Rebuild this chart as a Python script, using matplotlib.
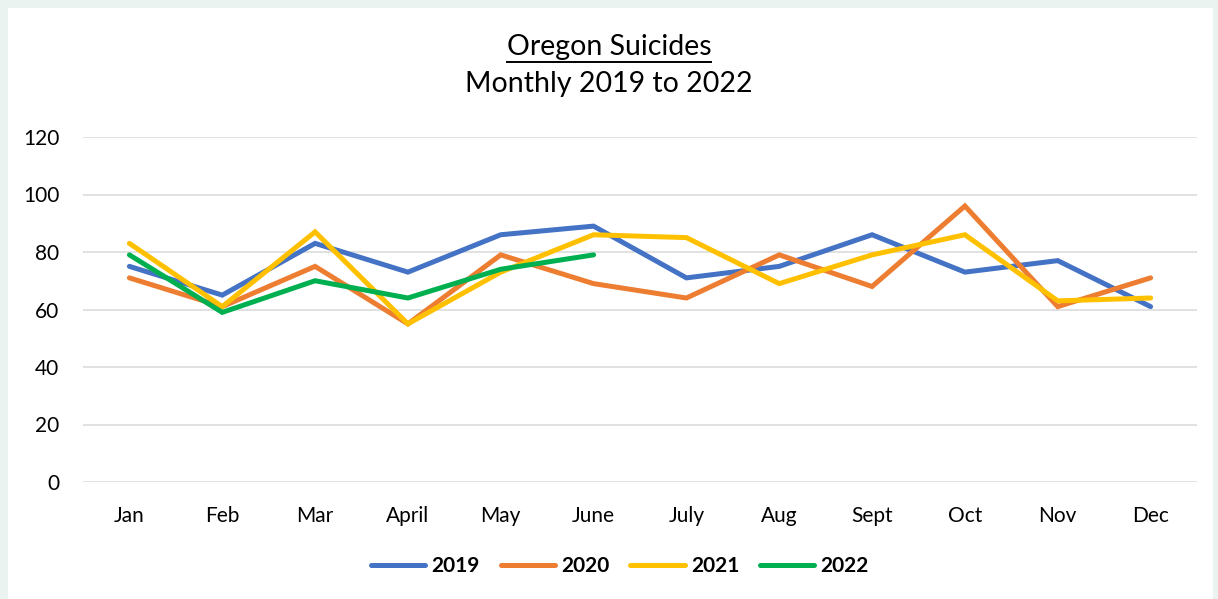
import matplotlib
matplotlib.use("Agg")
import matplotlib.pyplot as plt
from matplotlib.patches import Rectangle
from matplotlib.lines import Line2D

plt.rcParams['font.family'] = ['Lato', 'DejaVu Sans']

# Monthly counts
months = ["Jan", "Feb", "Mar", "April", "May", "June",
          "July", "Aug", "Sept", "Oct", "Nov", "Dec"]
y2019 = [75, 65, 83, 73, 86, 89, 71, 75, 86, 73, 77, 61]
y2020 = [71, 61, 75, 55, 79, 69, 64, 79, 68, 96, 61, 71]
y2021 = [83, 61, 87, 55, 73, 86, 85, 69, 79, 86, 63, 64]
y2022 = [79, 59, 70, 64, 74, 79]

series = [("2019", y2019, "#4472C4"),
          ("2020", y2020, "#ED7D31"),
          ("2021", y2021, "#FFC000"),
          ("2022", y2022, "#00B050")]

W, H = 1218, 599
fig = plt.figure(figsize=(W / 100, H / 100), dpi=100, facecolor="#EAF3EF")
# white chart area inside the pale frame
fig.patches.append(Rectangle((8 / W, 0), (1213 - 8) / W, (H - 8) / H,
                             transform=fig.transFigure, facecolor="white",
                             edgecolor="none", zorder=-10))

ax = fig.add_axes([83 / W, (H - 482) / H, (1197 - 83) / W, (482 - 137) / H])
ax.set_facecolor("none")

x = list(range(len(months)))
for name, vals, col in series:
    ax.plot(x[:len(vals)], vals, color=col, lw=3.6, solid_capstyle="round",
            solid_joinstyle="miter", label=name, zorder=3)

ax.set_xlim(-0.5, len(months) - 0.5)
ax.set_ylim(0, 120)
ax.set_yticks(range(0, 121, 20))
ax.set_xticks(x)
ax.set_xticklabels(months)
ax.grid(axis="y", color="#D9D9D9", lw=1.1, zorder=0)
ax.set_axisbelow(True)
for s in ax.spines.values():
    s.set_visible(False)
ax.tick_params(axis="both", length=0, labelsize=15, colors="black")
ax.tick_params(axis="x", pad=17)
ax.tick_params(axis="y", pad=17)

# title, first line underlined
t1 = fig.text(0.5, 1 - 47 / H, "Oregon Suicides", ha="center", va="center",
              fontsize=20.5)
fig.text(0.5, 1 - 84 / H, "Monthly 2019 to 2022", ha="center", va="center",
         fontsize=20.5)
fig.canvas.draw()
bb = t1.get_window_extent().transformed(fig.transFigure.inverted())
fig.add_artist(Line2D([bb.x0, bb.x1], [1 - 62 / H] * 2, color="black", lw=1.4,
                      transform=fig.transFigure))

handles = [Line2D([], [], color=c, lw=3.6, solid_capstyle="round")
           for _, _, c in series]
leg = fig.legend(handles, [s[0] for s in series], loc="center",
                 bbox_to_anchor=(620 / W, 1 - 566 / H), ncol=4, frameon=False,
                 prop={"weight": "bold", "size": 15}, handlelength=2.6,
                 handletextpad=0.3, columnspacing=1.0)

fig.savefig("out.png", dpi=100, facecolor=fig.get_facecolor())
